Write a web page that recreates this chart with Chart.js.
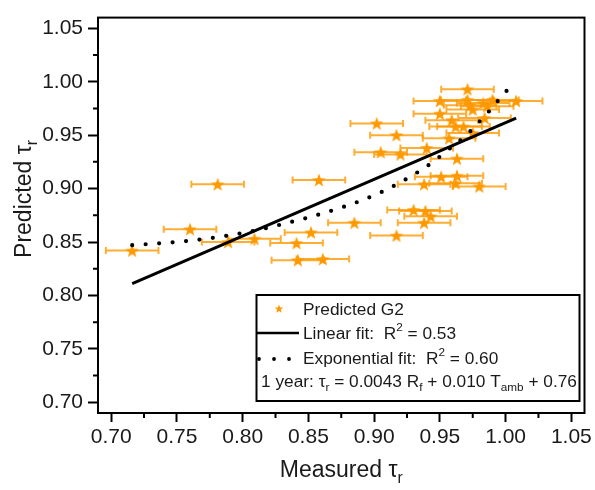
<!DOCTYPE html>
<html>
<head>
<meta charset="utf-8">
<script src="https://cdn.jsdelivr.net/npm/chart.js@4.4.1/dist/chart.umd.min.js"></script>
<style>
html, body { margin: 0; padding: 0; background: #fff; }
#wrap { width: 595px; height: 490px; }
</style>
</head>
<body>
<div id="wrap"><canvas id="chart_tau" width="595" height="490"></canvas></div>
<script>
// Значения
var measured = [0.716, 0.781, 0.760, 0.789, 0.809, 0.858, 0.885, 0.852, 0.841, 0.842,
                0.861, 0.917, 0.930, 0.939, 0.943, 0.938, 0.938, 0.951, 0.963, 0.962,
                0.980, 0.902, 0.917, 0.905, 0.920, 0.940, 0.963, 0.957, 0.950, 0.959,
                0.962, 0.968, 0.975, 0.984, 0.971, 0.950, 0.971, 0.990, 1.008, 0.973,
                0.983, 0.986, 0.975];
var predicted = [0.842, 0.904, 0.862, 0.850, 0.853, 0.908, 0.868, 0.859, 0.849, 0.833,
                 0.834, 0.856, 0.880, 0.879, 0.874, 0.868, 0.904, 0.911, 0.912, 0.905,
                 0.902, 0.961, 0.950, 0.934, 0.932, 0.938, 0.928, 0.947, 0.970, 0.964,
                 0.958, 0.958, 0.952, 0.966, 0.993, 0.982, 0.983, 0.983, 0.982, 0.978,
                 0.980, 0.977, 0.974];
var measuredErr = 0.02;

// линейная аппроксимация (концы линии)
var linX = [0.716, 1.008];
var linY = [0.811, 0.966];

// экспоненциальная аппроксимация (точки кривой)
var expX = [0.716, 0.758, 0.798, 0.828, 0.877, 0.906, 0.930, 0.946, 0.954, 0.971, 0.978, 0.985, 0.999, 1.007];
var expY = [0.847, 0.851, 0.858, 0.866, 0.883, 0.897, 0.913, 0.926, 0.934, 0.951, 0.960, 0.969, 0.989, 1.000];

var tickValues = [0.70, 0.75, 0.80, 0.85, 0.90, 0.95, 1.00, 1.05];

var FONT = '"Liberation Sans", Arial, sans-serif';
var ORANGE = '#ff9900';
var BAR = 'rgba(255,153,0,0.8)';

function starPath(ctx, cx, cy, R, r) {
    ctx.beginPath();
    for (var i = 0; i < 10; i++) {
        var a = -Math.PI / 2 + i * Math.PI / 5;
        var rr = (i % 2 === 0) ? R : r;
        var px = cx + rr * Math.cos(a), py = cy + rr * Math.sin(a);
        if (i === 0) ctx.moveTo(px, py); else ctx.lineTo(px, py);
    }
    ctx.closePath();
}

// картинка звёздочки для точек
var star = document.createElement('canvas');
star.width = 16; star.height = 16;
var sctx = star.getContext('2d');
starPath(sctx, 8, 8.6, 7.2, 3.0);
sctx.fillStyle = ORANGE;
sctx.fill();

function pairs(xs, ys) {
    var out = [];
    for (var i = 0; i < xs.length; i++) out.push({x: xs[i], y: ys[i]});
    return out;
}

// текст с индексами: parts = [[текст, 'sub'|'sup'|null], ...]
function richText(ctx, parts, x, y, size, measureOnly) {
    var x0 = x;
    for (var i = 0; i < parts.length; i++) {
        var t = parts[i][0], kind = parts[i][1];
        var fs = kind ? size * 0.68 : size;
        var dy = kind === 'sub' ? size * 0.32 : (kind === 'sup' ? -size * 0.36 : 0);
        ctx.font = fs + 'px ' + FONT;
        if (!measureOnly) ctx.fillText(t, x, y + dy);
        x += ctx.measureText(t).width;
    }
    return x - x0;
}

var extras = {
    id: 'extras',
    beforeDatasetsDraw: function(chart) {
        var ctx = chart.ctx, xs = chart.scales.x, ys = chart.scales.y;
        ctx.save();
        ctx.strokeStyle = BAR;
        ctx.lineWidth = 2;
        for (var i = 0; i < measured.length; i++) {
            var x1 = xs.getPixelForValue(measured[i] - measuredErr);
            var x2 = xs.getPixelForValue(measured[i] + measuredErr);
            var py = ys.getPixelForValue(predicted[i]);
            ctx.beginPath();
            ctx.moveTo(x1, py); ctx.lineTo(x2, py);
            ctx.moveTo(x1, py - 3.5); ctx.lineTo(x1, py + 3.5);
            ctx.moveTo(x2, py - 3.5); ctx.lineTo(x2, py + 3.5);
            ctx.stroke();
        }
        ctx.restore();
    },
    afterDraw: function(chart) {
        var ctx = chart.ctx, a = chart.chartArea, xs = chart.scales.x, ys = chart.scales.y;
        ctx.save();
        // рамка
        ctx.strokeStyle = '#000';
        ctx.lineWidth = 2;
        ctx.strokeRect(a.left, a.top, a.right - a.left, a.bottom - a.top);
        // малые засечки
        ctx.beginPath();
        for (var i = 0; i < tickValues.length - 1; i++) {
            var mid = (tickValues[i] + tickValues[i + 1]) / 2;
            var px = xs.getPixelForValue(mid);
            ctx.moveTo(px, a.bottom); ctx.lineTo(px, a.bottom + 5);
            var py = ys.getPixelForValue(mid);
            ctx.moveTo(a.left, py); ctx.lineTo(a.left - 5, py);
        }
        ctx.stroke();

        // подписи осей
        ctx.fillStyle = '#1a1a1a';
        ctx.textBaseline = 'middle';
        ctx.textAlign = 'left';
        var xt = [['Measured \u03c4', null], ['r', 'sub']];
        var w = richText(ctx, xt, 0, 0, 23, true);
        richText(ctx, xt, (a.left + a.right) / 2 - w / 2, 471, 23);
        var yt = [['Predicted \u03c4', null], ['r', 'sub']];
        w = richText(ctx, yt, 0, 0, 23, true);
        ctx.save();
        ctx.translate(25, 199);
        ctx.rotate(-Math.PI / 2);
        richText(ctx, yt, -w / 2, 0, 23);
        ctx.restore();

        // легенда
        ctx.lineWidth = 2;
        ctx.strokeStyle = '#000';
        ctx.strokeRect(256.5, 295, 323, 106);
        starPath(ctx, 279, 309, 4.5, 1.9);
        ctx.fillStyle = ORANGE;
        ctx.fill();
        ctx.fillStyle = '#1a1a1a';
        richText(ctx, [['Predicted G2', null]], 303, 310, 17.3);

        ctx.lineWidth = 2.5;
        ctx.beginPath();
        ctx.moveTo(257, 333); ctx.lineTo(299, 333);
        ctx.stroke();
        richText(ctx, [['Linear fit:  R', null], ['2', 'sup'], [' = 0.53', null]], 303, 334, 17.3);

        ctx.fillStyle = '#000';
        [259, 274, 289].forEach(function(dx) {
            ctx.beginPath();
            ctx.arc(dx, 359, 1.9, 0, Math.PI * 2);
            ctx.fill();
        });
        ctx.fillStyle = '#1a1a1a';
        richText(ctx, [['Exponential fit:  R', null], ['2', 'sup'], [' = 0.60', null]], 303, 359, 17.3);

        richText(ctx, [['1 year: \u03c4', null], ['r', 'sub'], [' = 0.0043 R', null], ['f', 'sub'],
                       [' + 0.010 T', null], ['amb', 'sub'], [' + 0.76', null]], 261, 382, 17.3);
        ctx.restore();
    }
};

var ctx = document.getElementById('chart_tau').getContext('2d');
var chart = new Chart(ctx, {
    type: 'scatter',
    data: {
        datasets: [{
            label: 'Linear fit',
            data: pairs(linX, linY),
            showLine: true,
            borderColor: '#000',
            borderWidth: 3,
            pointRadius: 0,
            order: 1
        }, {
            label: 'Exponential fit',
            data: pairs(expX, expY),
            showLine: true,
            borderColor: '#000',
            borderWidth: 4.2,
            borderDash: [0, 13.5],
            borderCapStyle: 'round',
            cubicInterpolationMode: 'monotone',
            pointRadius: 0,
            order: 1
        }, {
            label: 'Predicted G2',
            data: pairs(measured, predicted),
            pointStyle: star,
            order: 2
        }]
    },
    options: {
        responsive: false,
        animation: false,
        layout: { padding: { left: 0, top: 16, right: 8, bottom: 0 } },
        plugins: { legend: { display: false }, tooltip: { enabled: false } },
        scales: {
            x: {
                type: 'linear',
                min: 0.69, max: 1.06,
                afterFit: function(s) { s.height = 77; },
                afterBuildTicks: function(s) { s.ticks = tickValues.map(function(v) { return {value: v}; }); },
                ticks: {
                    callback: function(v) { return v.toFixed(2); },
                    font: { family: FONT, size: 21 },
                    color: '#1a1a1a',
                    padding: 3,
                    maxRotation: 0
                },
                grid: { drawOnChartArea: false, tickLength: 9, tickWidth: 2, tickColor: '#000' },
                border: { color: '#000', width: 2 }
            },
            y: {
                type: 'linear',
                min: 0.69, max: 1.06,
                afterFit: function(s) { s.width = 98; },
                afterBuildTicks: function(s) { s.ticks = tickValues.map(function(v) { return {value: v}; }); },
                ticks: {
                    callback: function(v) { return v.toFixed(2); },
                    font: { family: FONT, size: 21 },
                    color: '#1a1a1a',
                    padding: 5
                },
                grid: { drawOnChartArea: false, tickLength: 10, tickWidth: 2, tickColor: '#000' },
                border: { color: '#000', width: 2 }
            }
        }
    },
    plugins: [extras]
});
</script>
</body>
</html>
